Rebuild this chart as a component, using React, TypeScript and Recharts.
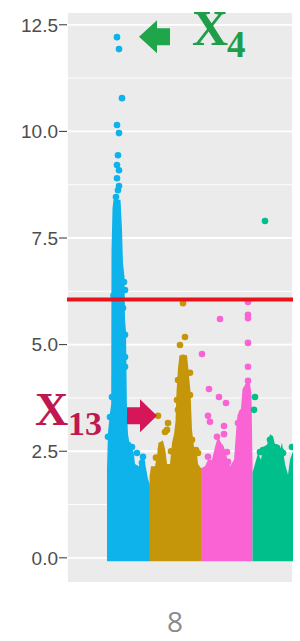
import React from 'react';
import {
  ComposedChart,
  Area,
  Scatter,
  XAxis,
  YAxis,
  CartesianGrid,
  ReferenceLine,
  ReferenceDot,
} from 'recharts';

// positions are in Mb along the visible stretch, values are -log10(p)
const Y_TICKS = [0, 2.5, 5, 7.5, 10, 12.5];
const Y_MINOR = [1.25, 3.75, 6.25, 8.75, 11.25];
const X_TICKS = [22.5];
const X_MINOR = [86.5];
const THRESHOLD = 6.06;
const X_LABEL = '8';

// outline of the dense mass of points in each chromosome block
const blueMass = [
  { pos: 20, top: 2.1 }, { pos: 20.5, top: 2.95 }, { pos: 21.5, top: 3.4 },
  { pos: 22.1, top: 3.6 }, { pos: 22.25, top: 7.2 }, { pos: 22.75, top: 8.2 },
  { pos: 23.25, top: 8.4 }, { pos: 26.75, top: 8.4 }, { pos: 27.5, top: 7.7 },
  { pos: 28, top: 6.9 }, { pos: 28.75, top: 6.6 }, { pos: 29, top: 5.6 },
  { pos: 29.5, top: 5.3 }, { pos: 29.75, top: 4.3 }, { pos: 30, top: 3.4 },
  { pos: 30.5, top: 2.9 }, { pos: 31.5, top: 2.6 }, { pos: 33.25, top: 2.5 },
  { pos: 34, top: 2.2 }, { pos: 36, top: 2.15 }, { pos: 37.5, top: 2.45 },
  { pos: 38.75, top: 2.3 }, { pos: 39.5, top: 2.1 }, { pos: 40.5, top: 1.85 },
  { pos: 41.5, top: 1.7 },
];
const goldMass = [
  { pos: 41.25, top: 1.9 }, { pos: 42, top: 2.15 }, { pos: 44, top: 2.15 },
  { pos: 45, top: 2.4 }, { pos: 45.75, top: 2.7 }, { pos: 48, top: 2.75 },
  { pos: 49.25, top: 2.5 }, { pos: 50, top: 2.2 }, { pos: 51.5, top: 2.2 },
  { pos: 52.5, top: 2.7 }, { pos: 53.5, top: 2.9 }, { pos: 54.25, top: 3.2 },
  { pos: 54.75, top: 3.9 }, { pos: 55.5, top: 4.45 }, { pos: 56.25, top: 4.75 },
  { pos: 60, top: 4.75 }, { pos: 60.75, top: 4.4 }, { pos: 61.75, top: 3.9 },
  { pos: 62.25, top: 3.3 }, { pos: 62.5, top: 3.0 }, { pos: 63.5, top: 2.6 },
  { pos: 64.75, top: 2.55 }, { pos: 65.5, top: 2.2 }, { pos: 67, top: 2.1 },
];
const pinkMass = [
  { pos: 67, top: 2.1 }, { pos: 69, top: 2.15 }, { pos: 70.5, top: 2.3 },
  { pos: 72.5, top: 2.3 }, { pos: 74, top: 2.6 }, { pos: 75.5, top: 2.85 },
  { pos: 77, top: 2.7 }, { pos: 78.5, top: 2.6 }, { pos: 80, top: 2.35 },
  { pos: 81.5, top: 2.15 }, { pos: 83.5, top: 2.3 }, { pos: 84.75, top: 3.1 },
  { pos: 85.25, top: 3.35 }, { pos: 87, top: 3.5 }, { pos: 87.75, top: 3.95 },
  { pos: 89.5, top: 4.1 }, { pos: 91.5, top: 4.1 }, { pos: 92.25, top: 3.8 },
  { pos: 92.75, top: 2.2 },
];
const greenMass = [
  { pos: 92.75, top: 2.0 }, { pos: 94, top: 2.2 }, { pos: 95.5, top: 2.45 },
  { pos: 97, top: 2.3 }, { pos: 98, top: 2.6 }, { pos: 100, top: 2.65 },
  { pos: 101.5, top: 2.9 }, { pos: 103, top: 2.85 }, { pos: 104.5, top: 2.55 },
  { pos: 106, top: 2.45 }, { pos: 107.5, top: 2.7 }, { pos: 109, top: 2.2 },
  { pos: 110.5, top: 1.95 }, { pos: 111.5, top: 2.3 }, { pos: 113, top: 2.5 },
];

// single points standing out of the mass
const blueHits = [
  { pos: 25, p: 12.21 }, { pos: 26, p: 11.93 }, { pos: 27.5, p: 10.78 },
  { pos: 25, p: 10.15 }, { pos: 26, p: 9.96 }, { pos: 25.5, p: 9.44 },
  { pos: 25, p: 9.21 }, { pos: 26, p: 9.09 }, { pos: 25, p: 8.9 },
  { pos: 26, p: 8.72 }, { pos: 25.5, p: 8.62 }, { pos: 24.5, p: 8.46 },
  { pos: 25, p: 8.27 }, { pos: 28.5, p: 6.47 }, { pos: 29, p: 6.28 },
  { pos: 23.25, p: 6.15 }, { pos: 28, p: 5.86 }, { pos: 29, p: 5.23 },
  { pos: 29, p: 4.71 }, { pos: 29, p: 4.48 }, { pos: 24, p: 4.05 },
  { pos: 22.5, p: 3.77 }, { pos: 25, p: 3.59 }, { pos: 21.5, p: 3.3 },
  { pos: 27, p: 3.4 }, { pos: 24, p: 3.16 }, { pos: 26.5, p: 3.0 },
  { pos: 21.5, p: 2.84 }, { pos: 20.5, p: 2.84 }, { pos: 32.5, p: 2.6 },
  { pos: 30, p: 2.37 }, { pos: 31.5, p: 2.13 }, { pos: 38, p: 2.37 },
  { pos: 37.5, p: 2.23 }, { pos: 38, p: 2.0 }, { pos: 35, p: 2.46 },
  { pos: 30.5, p: 2.65 }, { pos: 29, p: 2.8 },
];
const goldHits = [
  { pos: 58, p: 5.97 }, { pos: 59, p: 5.18 }, { pos: 56.5, p: 4.99 },
  { pos: 58, p: 4.69 }, { pos: 45.5, p: 3.33 }, { pos: 50.5, p: 3.16 },
  { pos: 50, p: 3.0 }, { pos: 61.5, p: 4.34 }, { pos: 55, p: 3.7 },
  { pos: 55.5, p: 4.17 }, { pos: 61.5, p: 3.82 }, { pos: 55.5, p: 3.47 },
  { pos: 62.5, p: 2.77 }, { pos: 54, p: 2.53 }, { pos: 64.5, p: 2.53 },
  { pos: 65.5, p: 2.46 }, { pos: 49, p: 2.95 }, { pos: 47, p: 2.55 },
  { pos: 44.5, p: 2.35 }, { pos: 52, p: 2.5 },
];
const pinkHits = [
  { pos: 90.5, p: 6.0 }, { pos: 90.5, p: 5.7 }, { pos: 90.5, p: 5.62 },
  { pos: 90.5, p: 5.04 }, { pos: 90.5, p: 4.48 }, { pos: 90.5, p: 4.15 },
  { pos: 89.5, p: 3.94 }, { pos: 76.5, p: 5.6 }, { pos: 67.5, p: 4.78 },
  { pos: 71, p: 3.96 }, { pos: 76, p: 3.77 }, { pos: 79.5, p: 3.63 },
  { pos: 70.5, p: 3.33 }, { pos: 71.5, p: 3.19 }, { pos: 78.5, p: 3.09 },
  { pos: 78.5, p: 2.9 }, { pos: 75, p: 2.84 }, { pos: 76.5, p: 2.6 },
  { pos: 77.5, p: 2.46 }, { pos: 80.5, p: 2.25 }, { pos: 76.5, p: 2.23 },
  { pos: 85.5, p: 3.16 }, { pos: 87.5, p: 3.4 }, { pos: 89, p: 3.59 },
  { pos: 90.5, p: 3.87 }, { pos: 70.5, p: 2.37 }, { pos: 80, p: 2.48 },
];
const greenHits = [
  { pos: 99, p: 7.9 }, { pos: 101.5, p: 2.77 }, { pos: 104, p: 2.6 },
  { pos: 98, p: 2.53 }, { pos: 96.5, p: 2.48 }, { pos: 107, p: 2.5 },
  { pos: 112.5, p: 2.6 }, { pos: 99, p: 2.3 }, { pos: 105, p: 2.58 },
  { pos: 108, p: 2.46 }, { pos: 102.5, p: 2.06 }, { pos: 94, p: 3.77 },
  { pos: 93.5, p: 3.47 },
];

const BLUE = '#0db3ea';
const GOLD = '#c6960a';
const PINK = '#f963d4';
const GREEN = '#00bf8b';
const BASE = -0.08;

const massKey = (d: { top: number }) => [BASE, d.top];

const dot = (props: any) => (
  <circle cx={props.cx} cy={props.cy} r={3.3} fill={props.fill} />
);

const serif = { fontFamily: '"Liberation Serif", serif', fontWeight: 700 };

// arrow pointing left at the X4 peak, label to the right
const X4Callout = (props: any) => {
  const { cx, cy } = props;
  const pts = [
    [0, 0], [18, -16.5], [18, -8.5], [31, -8.5], [31, 8.5], [18, 8.5], [18, 16.5],
  ].map(([dx, dy]) => `${cx + dx},${cy + dy}`).join(' ');
  return (
    <g>
      <polygon points={pts} fill="#1fa54a" />
      <text x={cx + 53} y={cy + 8.5} fontSize={50} fill="#1f9e49" style={serif}>X</text>
      <text x={cx + 88} y={cy + 20.5} fontSize={37} fill="#1f9e49" style={serif}>4</text>
    </g>
  );
};

// arrow pointing right at the X13 peak, label to the left
const X13Callout = (props: any) => {
  const { cx, cy } = props;
  const pts = [
    [0, 0], [-17, -16.5], [-17, -8.5], [-30, -8.5], [-30, 8.5], [-17, 8.5], [-17, 16.5],
  ].map(([dx, dy]) => `${cx + dx},${cy + dy}`).join(' ');
  return (
    <g>
      <polygon points={pts} fill="#d5175a" />
      <text x={cx - 122} y={cy + 9} fontSize={46} fill="#bf1850" style={serif}>X</text>
      <text x={cx - 89} y={cy + 19} fontSize={34} fill="#bf1850" style={serif}>13</text>
    </g>
  );
};

export default function App() {
  const blocks = [
    { mass: blueMass, hits: blueHits, color: BLUE },
    { mass: goldMass, hits: goldHits, color: GOLD },
    { mass: pinkMass, hits: pinkHits, color: PINK },
    { mass: greenMass, hits: greenHits, color: GREEN },
  ];

  return (
    <div style={{ position: 'absolute', left: 0, top: 0 }}>
      <ComposedChart
        width={300}
        height={641}
        margin={{ top: 12, right: 7, bottom: 0, left: 0 }}
      >
        <CartesianGrid fill="#ebebeb" stroke="#ffffff" strokeWidth={1.8} />
        <CartesianGrid
          horizontalValues={Y_MINOR}
          verticalValues={X_MINOR}
          stroke="#ffffff"
          strokeWidth={0.9}
        />
        <XAxis
          type="number"
          dataKey="pos"
          domain={[0, 113]}
          ticks={X_TICKS}
          allowDataOverflow
          axisLine={false}
          tick={false}
          tickSize={6}
          tickLine={{ stroke: '#333333' }}
          height={58}
          label={{
            value: X_LABEL,
            position: 'insideBottom',
            offset: 9,
            dx: -5,
            fill: '#8a8a8a',
            fontSize: 28,
            fontFamily: '"Open Sans", sans-serif',
          }}
        />
        <YAxis
          type="number"
          domain={[-0.59, 12.8]}
          ticks={Y_TICKS}
          allowDataOverflow
          width={67}
          axisLine={false}
          tickSize={8}
          tickMargin={1}
          tickLine={{ stroke: '#333333' }}
          tickFormatter={(v: number) => v.toFixed(1)}
          tick={{ fill: '#4d4d4d', fontSize: 19, fontFamily: '"Liberation Sans", Arial, sans-serif' }}
        />
        {blocks.map((b, i) => (
          <Area
            key={`mass-${i}`}
            data={b.mass}
            dataKey={massKey}
            type="linear"
            stroke="none"
            fill={b.color}
            fillOpacity={1}
            dot={false}
            activeDot={false}
            isAnimationActive={false}
          />
        ))}
        {blocks.map((b, i) => (
          <Scatter
            key={`hits-${i}`}
            data={b.hits}
            dataKey="p"
            fill={b.color}
            shape={dot}
            isAnimationActive={false}
          />
        ))}
        <ReferenceLine y={THRESHOLD} stroke="#e8141c" strokeWidth={4} zIndex={700} />
        <ReferenceDot x={36} y={12.22} r={0} shape={X4Callout} zIndex={800} />
        <ReferenceDot x={45} y={3.33} r={0} shape={X13Callout} zIndex={800} />
      </ComposedChart>
    </div>
  );
}
